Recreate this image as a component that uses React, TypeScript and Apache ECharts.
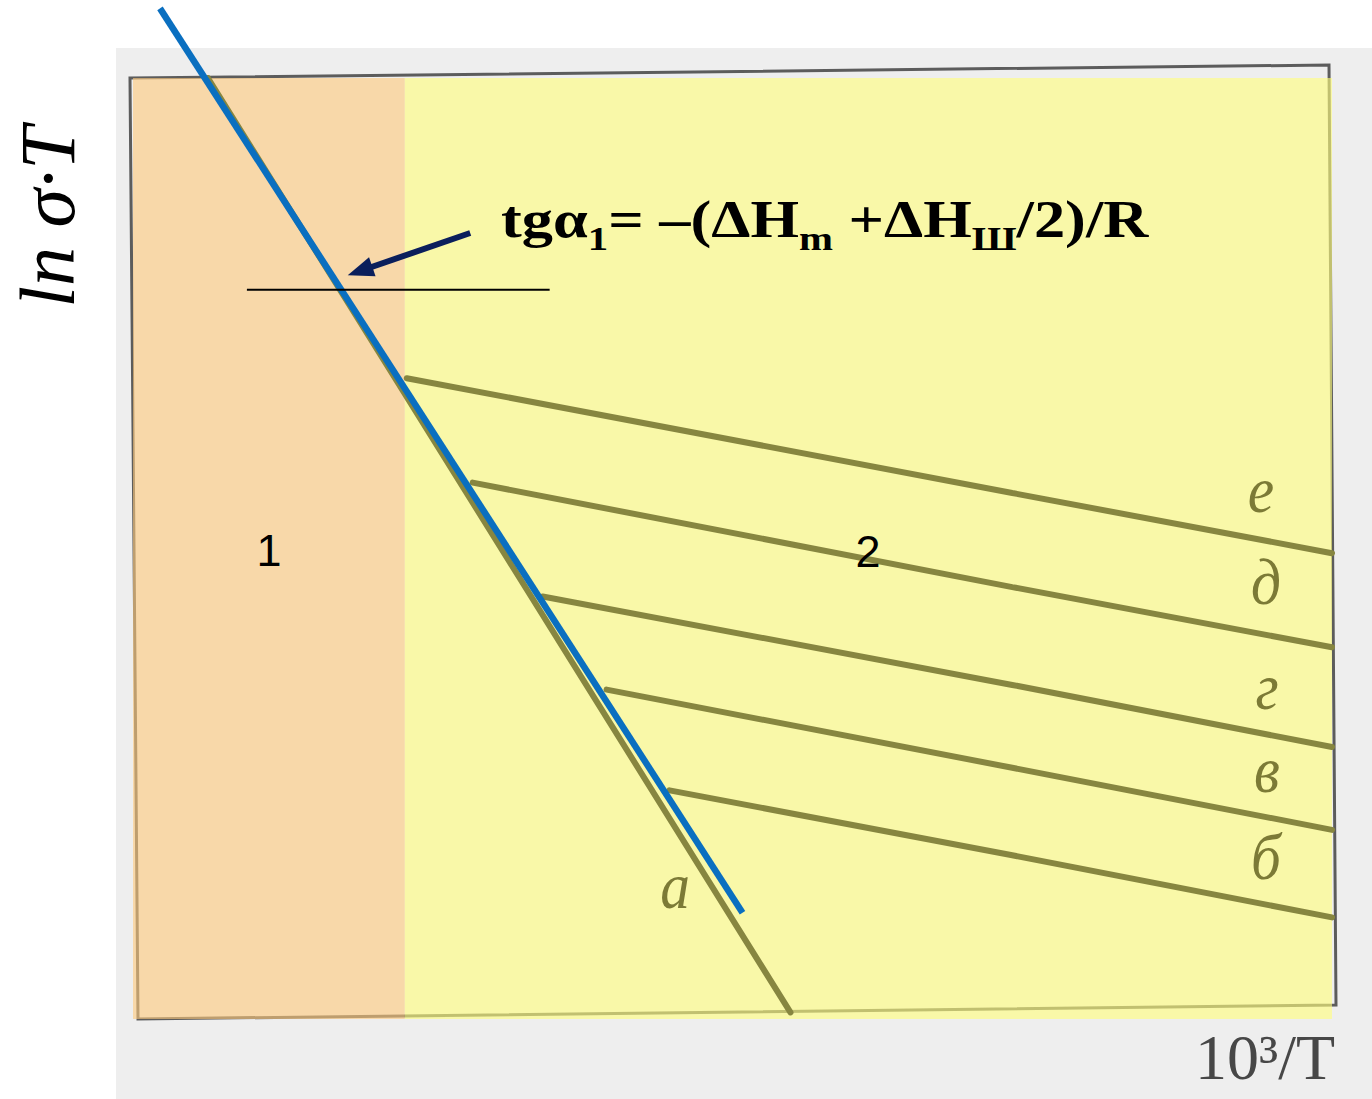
import React, { useEffect, useRef } from "react";
import * as echarts from "echarts";

// Axes: x = 10³/T, y = ln σ·T (arbitrary units of the sketch)
const xRange = [0, 12];
const yRange = [0, 10];

// Boundary between region 1 (intrinsic) and region 2 (extrinsic)
const regionSplit = 2.72;

// Steep line "а" and the family of lower-slope lines б…е leaving it
const lineA = [[0.75, 10.0], [6.58, 0.07]];
const lineB = [[5.37, 2.43], [8.8, 1.74], [12, 1.08]];
const lineV = [[4.74, 3.5], [8.8, 2.67], [12, 2.01]];
const lineG = [[4.1, 4.49], [8.8, 3.55], [12, 2.89]];
const lineD = [[3.4, 5.7], [8.8, 4.59], [12, 3.95]];
const lineE = [[2.74, 6.81], [8.8, 5.59], [12, 4.95]];

// Fitted tangent through the high-temperature branch
const tangentLine = [[0.27, 10.74], [6.1, 1.13]];
// Horizontal reference for the angle α1
const angleBase = [[1.14, 7.75], [4.17, 7.75]];
// Pointer from the formula to the tangent
const arrowFrom = [3.375, 8.353];
const arrowTo = [2.272, 7.949];

const curveLabels = ["а", "б", "в", "г", "д", "е"];
const regionLabels = ["1", "2"];

const OLIVE = "#878640";
const BLUE = "#0a6fc0";
const ORANGE = "rgba(255,202,123,0.6)";
const YELLOW = "rgba(255,253,125,0.62)";

export default function App() {
  const ref = useRef<HTMLDivElement>(null);

  useEffect(() => {
    if (!ref.current) return;
    const chart = echarts.init(ref.current, undefined, { renderer: "svg" });

    const olive = (data: number[][], name: string) => ({
      type: "line",
      name,
      data,
      symbol: "none",
      silent: true,
      z: 3,
      lineStyle: { color: OLIVE, width: 6, cap: "round" },
    });

    const letter = (text: string, x: number, y: number) => ({
      type: "text",
      x,
      y,
      z: 100,
      scaleX: 0.9,
      style: {
        text,
        fontSize: 66,
        fontStyle: "italic",
        fontFamily: "Liberation Serif",
        fill: "#7c7a36",
        align: "center",
        verticalAlign: "middle",
      },
    });

    const subStyle = {
      fontSize: 34,
      fontWeight: "bold",
      fontFamily: "Liberation Serif",
      fill: "#000",
      height: 16,
      verticalAlign: "bottom",
    };

    const option: any = {
      animation: false,
      grid: { left: 133, top: 78, width: 1199, height: 941, show: false },
      xAxis: { type: "value", min: xRange[0], max: xRange[1], show: false },
      yAxis: { type: "value", min: yRange[0], max: yRange[1], show: false },
      graphic: [
        // scanned paper
        {
          type: "rect",
          z: 0,
          shape: { x: 116, y: 48, width: 1256, height: 1051 },
          style: { fill: "#eeeeee" },
        },
        // plot frame of the scanned figure
        {
          type: "polygon",
          z: 0,
          shape: { points: [[130, 78], [1329, 65], [1336, 1005], [138, 1019]] },
          style: { fill: "none", stroke: "#5c5c5c", lineWidth: 3 },
        },
        // y axis title
        {
          type: "text",
          x: 47,
          y: 217,
          z: 100,
          rotation: Math.PI / 2,
          style: {
            text: "ln σ·T",
            fontSize: 78,
            fontStyle: "italic",
            fontFamily: "Liberation Serif",
            fill: "#000",
            align: "center",
            verticalAlign: "middle",
          },
        },
        // x axis title
        {
          type: "text",
          x: 1335,
          y: 1057,
          z: 100,
          style: {
            text: "10³/T",
            fontSize: 64,
            fontFamily: "Liberation Serif",
            fill: "#474747",
            align: "right",
            verticalAlign: "middle",
          },
        },
        // slope formula
        {
          type: "text",
          x: 501,
          y: 191,
          z: 100,
          scaleX: 1.2,
          style: {
            text: "{m|tgα}{s|1}{m|= –(ΔH}{s|m}{m| +ΔH}{s|Ш}{m|/2)/R}",
            align: "left",
            verticalAlign: "top",
            rich: {
              m: {
                fontSize: 52,
                fontWeight: "bold",
                fontFamily: "Liberation Serif",
                fill: "#000",
                lineHeight: 56,
              },
              s: subStyle,
            },
          },
        },
        // region numbers
        {
          type: "text",
          x: 269,
          y: 550,
          z: 100,
          style: {
            text: regionLabels[0],
            fontSize: 45,
            fontFamily: "Liberation Sans",
            fill: "#000",
            align: "center",
            verticalAlign: "middle",
          },
        },
        {
          type: "text",
          x: 868,
          y: 551,
          z: 100,
          style: {
            text: regionLabels[1],
            fontSize: 45,
            fontFamily: "Liberation Sans",
            fill: "#000",
            align: "center",
            verticalAlign: "middle",
          },
        },
        letter(curveLabels[0], 675, 886),
        letter(curveLabels[1], 1266, 857),
        letter(curveLabels[2], 1267, 770),
        letter(curveLabels[3], 1267, 687),
        letter(curveLabels[4], 1266, 582),
        letter(curveLabels[5], 1261, 490),
      ],
      series: [
        {
          ...olive(lineA, "а"),
          markArea: {
            silent: true,
            data: [
              [
                { coord: [xRange[0], yRange[0]], itemStyle: { color: ORANGE } },
                { coord: [regionSplit, yRange[1]] },
              ],
              [
                { coord: [regionSplit, yRange[0]], itemStyle: { color: YELLOW } },
                { coord: [xRange[1], yRange[1]] },
              ],
            ],
          },
        },
        olive(lineB, "б"),
        olive(lineV, "в"),
        olive(lineG, "г"),
        olive(lineD, "д"),
        olive(lineE, "е"),
        {
          type: "line",
          name: "tangent",
          data: tangentLine,
          symbol: "none",
          clip: false,
          silent: true,
          z: 5,
          lineStyle: { color: BLUE, width: 6.5 },
        },
        {
          type: "line",
          name: "base",
          data: angleBase,
          symbol: "none",
          silent: true,
          z: 6,
          lineStyle: { color: "#000", width: 2 },
          markLine: {
            silent: true,
            symbol: ["none", "triangle"],
            symbolSize: [20, 26],
            label: { show: false },
            lineStyle: { color: "#0b1f5c", width: 6, type: "solid" },
            data: [[{ coord: arrowFrom }, { coord: arrowTo }]],
          },
        },
      ],
    };

    chart.setOption(option);
    return () => chart.dispose();
  }, []);

  return (
    <div
      ref={ref}
      style={{ position: "absolute", left: 0, top: 0, width: 1372, height: 1099 }}
    />
  );
}
